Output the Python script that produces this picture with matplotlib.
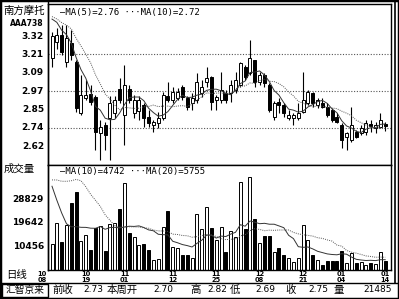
import numpy as np
import matplotlib.pyplot as plt
from matplotlib.patches import Rectangle
from matplotlib.lines import Line2D
from matplotlib.transforms import blended_transform_factory

plt.rcParams['font.family'] = ['Noto Sans CJK SC', 'DejaVu Sans']

# daily candles, 10/08 .. 01/14
opens = [3.18, 3.28, 3.326, 3.154, 3.275, 3.154, 2.83, 2.925, 2.951, 2.932,
         2.702, 2.753, 2.798, 2.83, 2.982, 2.817, 2.982, 2.83, 2.843, 2.881,
         2.804, 2.753, 2.766, 2.798, 2.938, 2.912, 2.925, 2.995, 2.925, 2.893,
         2.912, 2.957, 3.027, 3.059, 2.912, 2.912, 2.957, 2.957, 2.976, 3.008,
         3.123, 3.085, 3.167, 3.027, 3.072, 3.008, 2.804, 2.90, 2.881, 2.798,
         2.798, 2.798, 2.836, 2.893, 2.957, 2.881, 2.893, 2.868, 2.849, 2.804,
         2.753, 2.677, 2.658, 2.709, 2.702, 2.709, 2.76, 2.734, 2.740, 2.76]
highs = [3.345, 3.37, 3.39, 3.39, 3.358, 3.167, 3.072, 3.04, 3.008, 2.944,
         2.785, 2.772, 2.938, 2.938, 3.053, 3.135, 3.008, 2.944, 2.938, 2.893,
         2.849, 2.785, 2.836, 2.963, 3.027, 2.995, 2.989, 3.008, 2.938, 2.957,
         3.085, 3.04, 3.123, 3.065, 2.944, 3.091, 2.976, 3.04, 3.091, 3.154,
         3.135, 3.295, 3.17, 3.091, 3.085, 3.021, 2.906, 2.925, 2.893, 2.849,
         2.83, 2.893, 3.091, 2.976, 2.963, 2.925, 2.925, 2.893, 2.862, 2.83,
         2.766, 2.709, 2.868, 2.721, 2.753, 2.785, 2.785, 2.772, 2.83, 2.772]
lows = [3.12, 3.24, 3.20, 3.123, 3.167, 2.836, 2.817, 2.912, 2.881, 2.594,
        2.53, 2.594, 2.53, 2.798, 2.893, 2.626, 2.893, 2.798, 2.785, 2.740,
        2.740, 2.709, 2.734, 2.785, 2.900, 2.893, 2.912, 2.912, 2.849, 2.849,
        2.893, 2.932, 2.995, 2.849, 2.849, 2.893, 2.893, 2.90, 2.957, 2.995,
        3.04, 3.072, 2.995, 3.008, 2.995, 2.836, 2.785, 2.83, 2.804, 2.785,
        2.753, 2.785, 2.83, 2.881, 2.868, 2.862, 2.862, 2.804, 2.772, 2.766,
        2.607, 2.594, 2.645, 2.670, 2.689, 2.689, 2.709, 2.702, 2.734, 2.715]
closes = [3.32, 3.326, 3.22, 3.307, 3.199, 2.86, 2.944, 2.944, 2.90, 2.709,
          2.740, 2.689, 2.893, 2.912, 2.912, 3.008, 2.912, 2.912, 2.912, 2.798,
          2.766, 2.772, 2.798, 2.944, 2.912, 2.963, 2.963, 2.932, 2.868, 2.925,
          3.027, 2.995, 3.053, 2.90, 2.932, 2.976, 2.912, 3.008, 3.04, 3.148,
          3.059, 3.18, 3.027, 3.072, 3.021, 2.849, 2.893, 2.881, 2.83, 2.817,
          2.817, 2.83, 2.912, 2.963, 2.893, 2.912, 2.868, 2.817, 2.785, 2.772,
          2.658, 2.702, 2.753, 2.677, 2.734, 2.766, 2.747, 2.753, 2.785, 2.747]
volumes = [11240, 19450, 12020, 18670, 27270, 31570, 12410, 14760, 8900, 17500,
           18280, 8500, 19000, 19450, 24900, 35090, 15540, 13970, 11000, 11240,
           8900, 4990, 5370, 17890, 24140, 10070, 9680, 6940, 6940, 5770,
           22970, 17100, 25700, 17500, 12800, 17890, 8110, 16320, 13970, 35480,
           17100, 37430, 21010, 11630, 14370, 14370, 8110, 9680, 6940, 5770,
           4200, 5770, 18670, 12800, 6940, 4980, 3030, 4590, 4590, 4590,
           8500, 3810, 7720, 3810, 4200, 3030, 3810, 3420, 8110, 4590]

# sessions before the visible window (only feed the moving averages)
prior_close = [3.50, 3.48, 3.45, 3.47, 3.44, 3.46, 3.43, 3.47, 3.45, 3.47]
prior_volume = [20000, 22000, 19000, 23000, 21000, 22760, 62000, 68000, 64000, 66000,
                74000, 62000, 61000, 39000, 31000, 15000, 15000, 12000, 18000]

price_ticks = [3.32, 3.203, 3.086, 2.969, 2.852, 2.735, 2.618]
price_labels = ['3.32', '3.21', '3.09', '2.97', '2.85', '2.74', '2.62']
grid_prices = [3.203, 2.969, 2.735]
vol_ticks = [28829, 19642, 10456]
date_pos = [-2, 7, 15, 25, 34, 43, 52, 60, 69]
date_labels = ['10\n08', '10\n19', '11\n01', '11\n12', '11\n25', '12\n08', '12\n21', '01\n04', '01\n14']
status_names = ['前收', '本周开', '高', '低', '收', '量']
status_values = ['2.73', '2.70', '2.82', '2.69', '2.75', '21485']


def moving_avg(values, prior, n):
    full = np.r_[prior, values]
    ma = np.convolve(full, np.ones(n) / n, mode='valid')
    return ma[-len(values):]


W, H = 399, 299
fx = lambda px: px / W
fy = lambda py: 1 - py / H

fig = plt.figure(figsize=(W / 100, H / 100), dpi=100)
fig.patch.set_facecolor('white')

ax = fig.add_axes([fx(48), fy(165), fx(391) - fx(48), fy(4) - fy(165)])
axv = fig.add_axes([fx(48), fy(269.5), fx(391) - fx(48), fy(165) - fy(269.5)])

x = np.arange(len(closes))
o = np.array(opens)
c = np.array(closes)
up = c >= o
face = np.where(up, 'white', 'black')

# price panel
for gp in grid_prices:
    ax.axhline(gp, color='#555555', lw=0.8, ls=(0, (1, 1.5)), zorder=0)
ax.vlines(x, lows, highs, color='black', lw=0.8, zorder=2)
body = np.maximum(np.abs(c - o), 0.004)
ax.bar(x, body, bottom=np.minimum(o, c), width=0.62, color=face,
       edgecolor='black', linewidth=0.7, zorder=3)
ma5 = moving_avg(c, prior_close, 5)
ma10 = moving_avg(c, prior_close, 10)
ax.plot(x, ma5, color='#333333', lw=0.7, zorder=4)
ax.plot(x, ma10, color='#555555', lw=0.7, ls=(0, (1, 1.2)), zorder=4)
ax.set_xlim(-0.83, 70.2)
ax.set_ylim(2.498, 3.524)
ax.set_xticks([])
ax.set_yticks([])

# volume panel
axv.bar(x, volumes, width=0.62, color=face, edgecolor='black', linewidth=0.7, zorder=2)
vma10 = moving_avg(np.array(volumes, float), prior_volume, 10)
vma20 = moving_avg(np.array(volumes, float), prior_volume, 20)
axv.plot(x, vma10, color='#333333', lw=0.7, zorder=3)
axv.plot(x, vma20, color='#555555', lw=0.7, ls=(0, (1, 1.2)), zorder=3)
axv.set_xlim(-0.83, 70.2)
axv.set_ylim(1269, 42130)
axv.set_xticks([])
axv.set_yticks([])

for a in (ax, axv):
    for s in a.spines.values():
        s.set_linewidth(1.0)
        s.set_color('black')

num_font = dict(family=['DejaVu Sans'], fontsize=6.5, color='black')
cjk_font = dict(family=['Noto Sans CJK SC', 'DejaVu Sans'], fontsize=7.5, color='black')

# left column labels
for t, lab in zip(price_ticks, price_labels):
    ax.text(-0.012, t, lab, transform=blended_transform_factory(ax.transAxes, ax.transData),
            ha='right', va='center', fontweight='bold', **num_font)
for t in vol_ticks:
    axv.text(-0.012, t, str(t), transform=blended_transform_factory(axv.transAxes, axv.transData),
             ha='right', va='center', fontweight='bold', **num_font)
fig.text(fx(3), fy(11), '南方摩托', ha='left', va='center', **cjk_font)
fig.text(fx(10), fy(23), 'AAA738', ha='left', va='center', family=['DejaVu Sans'],
         fontsize=5.5, fontweight='bold')
fig.text(fx(4), fy(169), '成交量', ha='left', va='center', **cjk_font)
fig.text(fx(6), fy(275), '日线', ha='left', va='center', **cjk_font)

# legends
ax.text(0.035, 0.945, '—MA(5)=2.76 ···MA(10)=2.72', transform=ax.transAxes,
        ha='left', va='center', family=['DejaVu Sans Mono'], fontsize=6.5)
axv.text(0.035, 0.94, '—MA(10)=4742 ···MA(20)=5755', transform=axv.transAxes,
         ha='left', va='center', family=['DejaVu Sans Mono'], fontsize=6.5)

# date labels (two rows: month over day)
tr = blended_transform_factory(axv.transData, axv.transAxes)
for p, lab in zip(date_pos, date_labels):
    mon, day = lab.split('\n')
    axv.text(p, -0.018, mon, transform=tr, ha='center', va='top', clip_on=False,
             family=['DejaVu Sans'], fontsize=4.8, fontweight='bold')
    axv.text(p, -0.072, day, transform=tr, ha='center', va='top', clip_on=False,
             family=['DejaVu Sans'], fontsize=4.8, fontweight='bold')

# status bar
fig.add_artist(Line2D([0, 1], [fy(282.5), fy(282.5)], color='black', lw=1.0))
fig.add_artist(Rectangle((fx(2), fy(297)), fx(48) - fx(2), fy(283.5) - fy(297),
                         fill=False, edgecolor='black', lw=1.0))
fig.text(fx(25), fy(290), '汇智京来', ha='center', va='center',
         family=['Noto Sans CJK SC', 'DejaVu Sans'], fontsize=7)
name_x = [52, 107, 190, 230, 285, 333]
val_right = [103, 173, 227, 275, 328, 392]
for nx, vr, nm, vv in zip(name_x, val_right, status_names, status_values):
    fig.text(fx(nx), fy(290), nm, ha='left', va='center', **cjk_font)
    fig.text(fx(vr), fy(290), vv, ha='right', va='center', **num_font)

# frame
fig.add_artist(Rectangle((0, 0), 1, 1, fill=False, edgecolor='black', lw=2.5))
fig.add_artist(Line2D([fx(48), fx(48)], [fy(0), fy(269.5)], color='black', lw=1.0))
fig.add_artist(Line2D([fx(395), fx(395)], [fy(0), fy(282.5)], color='black', lw=1.2))

fig.savefig('out.png', dpi=100, facecolor='white')
